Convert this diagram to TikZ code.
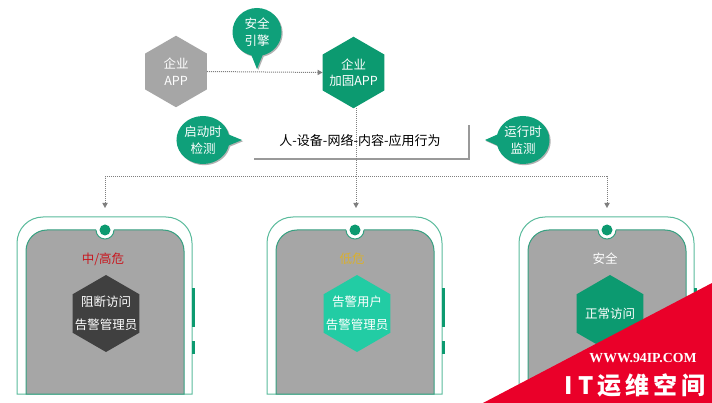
\documentclass[tikz,border=0pt]{standalone}
\usepackage{fontspec}
\setmainfont{Noto Sans CJK SC}
\newfontfamily\wmserif{Liberation Serif}
\usetikzlibrary{shapes.geometric,shapes.callouts,arrows.meta,shadows}
\definecolor{brandgreen}{HTML}{0FA07A}
\definecolor{hexgreen}{HTML}{0C9A70}
\definecolor{mint}{HTML}{22CCA4}
\definecolor{rimgreen}{HTML}{5ABB9C}
\definecolor{screenrim}{HTML}{35A080}
\definecolor{screengray}{HTML}{A6A6A6}
\definecolor{darkhex}{HTML}{404040}
\definecolor{dotgray}{HTML}{7F7F7F}
\definecolor{wmred}{HTML}{EA0029}
\definecolor{lowrisk}{HTML}{D9B02F}
\definecolor{highrisk}{HTML}{C8171F}
\tikzset{
  hexnode/.style={regular polygon,regular polygon sides=6,regular polygon rotate=30,
    minimum size=77pt,inner sep=0pt,outer sep=0pt,draw=none},
  bighex/.style={hexnode,minimum size=71.5pt},
  hextext/.style={text=white,align=center,inner sep=0pt,font=\fontsize{12.5}{23}\selectfont},
  bigtext/.style={hextext,font=\fontsize{12.5}{16.5}\selectfont},
  bubble/.style={ellipse callout,fill=brandgreen,minimum width=49pt,minimum height=48pt,
    inner sep=0pt,outer sep=0pt,text=white,align=center,callout pointer arc=26,
    font=\fontsize{12.5}{16.5}\selectfont,
    drop shadow={shadow xshift=1.2pt,shadow yshift=-1.2pt,opacity=.3,fill=black}},
  dotline/.style={draw=dotgray,line width=1pt,densely dotted},
  dotarrow/.style={dotline,-{Triangle[length=5pt,width=5.5pt,fill=dotgray,line width=0pt,sep=0pt]}},
  statuslabel/.style={font=\fontsize{12.5}{15}\selectfont,inner sep=0pt},
  phonerim/.style={draw=rimgreen,line width=1pt,fill=white,rounded corners=26pt},
  phonescreen/.style={draw=screenrim,line width=1pt,fill=screengray,rounded corners=21pt},
  phonekey/.style={fill=hexgreen,draw=none},
}
\newcommand{\phonebody}[2]{%
  \begin{scope}[xshift=#1pt]
    \path[phonerim] (17,394) {[sharp corners] -- (17,300)} -- (17,217) -- (192,217) -- (192,300) {[sharp corners] -- (192,394) -- cycle};
    \path[phonekey] (192,288) rectangle (195,327);
    \path[phonekey] (192,341) rectangle (195,354);
    \path[phonescreen] (26,394) {[sharp corners] -- (26,300)} -- (26,230) -- (184,230) -- (184,300) {[sharp corners] -- (184,394) -- cycle};
    \fill[white] (96,229) rectangle (114,231);
    \fill[white] (96,230) arc[start angle=180,end angle=0,radius=9] -- cycle;
    \draw[screenrim,line width=1pt] (96,230) arc[start angle=180,end angle=0,radius=9];
    \node[circle,fill=hexgreen,minimum size=11pt,inner sep=0pt] (#2) at (105,230) {};
  \end{scope}}
\begin{document}
\begin{tikzpicture}[x=1pt,y=-1pt]
\useasboundingbox (0,0) rectangle (712,403);
\fill[white] (0,0) rectangle (712,403);

% phones
\phonebody{0}{notchA}
\phonebody{250}{notchB}
\phonebody{502}{notchC}

% top row
\node[bighex,fill=screengray] (plain) at (176,71.5) {};
\node[bigtext] (plainText) at (plain.center) {企业\\APP};
\node[bighex,fill=hexgreen] (hardened) at (353.5,72.5) {};
\node[bigtext] (hardenedText) at (hardened.center) {企业\\加固APP};
\draw[dotarrow] (plain.east) -- (hardened.west);
\node[bubble,callout absolute pointer={(257,69)}] (engine) at (257,32) {安全\\引擎};

% behaviour box
\node[draw=none,fill=white,minimum width=216pt,minimum height=35pt,inner sep=0pt,
  drop shadow={shadow xshift=2pt,shadow yshift=-2pt,opacity=.4,fill=black},
  font=\fontsize{13}{16}\selectfont] (behaviour) at (360,140.5) {人-设备-网络-内容-应用行为};
\node[bubble,callout absolute pointer={(242,140)}] (startup) at (203,140) {启动时\\检测};
\node[bubble,callout absolute pointer={(485,140)}] (runtime) at (523,140) {运行时\\监测};

% connectors
\coordinate (hub) at (356,177);
\coordinate (endA) at (105,208);
\coordinate (endB) at (356,208);
\coordinate (endC) at (607,208);
\draw[dotarrow] (hardened.south -| hub) -- (endB);
\draw[dotarrow] (hub) -| (endA);
\draw[dotarrow] (hub) -| (endC);

% phone contents
\node[statuslabel,text=highrisk] (riskA) at (103,259) {中/高危};
\node[statuslabel,text=lowrisk] (riskB) at (352,259) {低危};
\node[statuslabel,text=white] (riskC) at (605,259) {安全};
\node[hexnode,fill=darkhex] (actA) at (106,313.5) {};
\node[hextext] (actAText) at (actA.center) {阻断访问\\告警管理员};
\node[hexnode,fill=mint] (actB) at (357,313.5) {};
\node[hextext] (actBText) at (actB.center) {告警用户\\告警管理员};
\node[hexnode,fill=hexgreen] (actC) at (610,313.5) {};
\node[hextext] (actCText) at (actC.center) {正常访问};

% watermark
\fill[wmred] (712,283) -- (712,403) -- (483,403) -- cycle;
\node[text=white,inner sep=0pt,font=\wmserif\bfseries\fontsize{13.8}{15}\selectfont] (wmurl) at (643,358) {WWW.94IP.COM};
\node[text=white,inner sep=0pt,font=\bfseries\fontsize{24}{28}\selectfont] (wmname) at (635,385) {I T\,运\,维\,空\,间};
\end{tikzpicture}
\end{document}
